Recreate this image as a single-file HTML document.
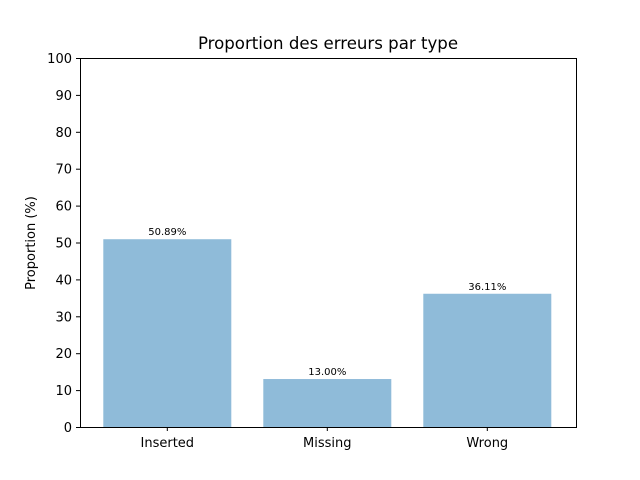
<!DOCTYPE html>
<html><head><meta charset="utf-8"><style>
body{margin:0;background:#fff;}
svg{display:block;font-family:"DejaVu Sans","Liberation Sans",sans-serif;}
</style></head><body>
<svg id="chart" width="640" height="480" viewBox="0 0 640 480">
<rect width="640" height="480" fill="#fff"/>
<text x="328" y="49" font-size="16.6" text-anchor="middle" fill="#000">Proportion des erreurs par type</text>
<text transform="translate(35,243) rotate(-90)" font-size="13" text-anchor="middle">Proportion (%)</text>
<g id="bars"></g>
<g id="yticks"></g>
<g id="xticks"></g>
<rect x="80.5" y="58.5" width="496" height="369" fill="none" stroke="#000" stroke-width="1"/>
</svg>
<script>
const categories = ["Inserted","Missing","Wrong"];
const values = [50.89, 13.00, 36.11];
const valueLabels = ["50.89%","13.00%","36.11%"];
const yTicks = [0,10,20,30,40,50,60,70,80,90,100];

const L=80,R=576,T=58,B=427;
const x = v => L - 0.7 + (v + 0.55) * (R - L) / 3.1;
const y = v => B - v * (B - T) / 100;
const NS="http://www.w3.org/2000/svg";
function mk(tag, attrs, parent, text){
  const e=document.createElementNS(NS,tag);
  for(const k in attrs) e.setAttribute(k, attrs[k]);
  if(text!==undefined) e.textContent=text;
  parent.appendChild(e); return e;
}
const gb=document.getElementById('bars'), gy=document.getElementById('yticks'), gx=document.getElementById('xticks');
categories.forEach((c,i)=>{
  const r=mk('rect',{x:x(i-0.4),y:y(values[i]),width:x(i+0.4)-x(i-0.4),height:y(0)-y(values[i]),fill:'#8fbbd9'},gb);
  
  
  const t=mk('text',{x:x(i),y:y(values[i])-4,'font-size':10,'text-anchor':'middle'},gb,valueLabels[i]);
  
  
  const tk=mk('line',{x1:x(i),x2:x(i),y1:B,y2:B+4,stroke:'#000'},gx);
  
  
  const tl=mk('text',{x:x(i),y:B+20,'font-size':13,'text-anchor':'middle'},gx,c);
  
  
});
yTicks.forEach(v=>{
  const tk=mk('line',{x1:L-4,x2:L,y1:y(v)+0.5,y2:y(v)+0.5,stroke:'#000'},gy);
  
  
  const tl=mk('text',{x:L-8,y:y(v)+5,'font-size':13,'text-anchor':'end'},gy,String(v));
  
  
});
</script>
</body></html>
